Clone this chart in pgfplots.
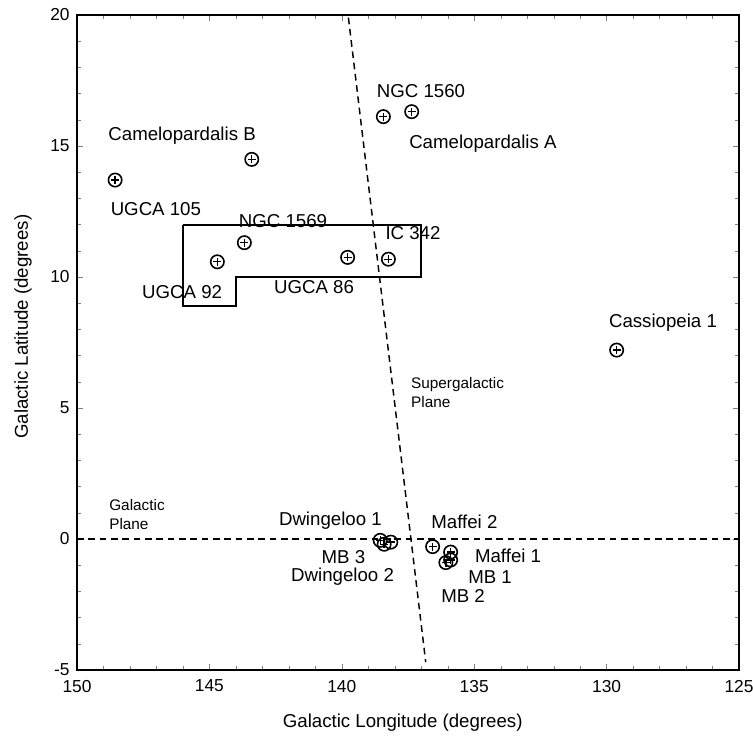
\documentclass[border=0pt]{standalone}
\usepackage{pgfplots}
\pgfplotsset{compat=1.18}
\usepackage{pgfplotstable}
\usepackage{fontspec}
\setmainfont{Liberation Sans}

\pgfplotstableread{
x y
148.56 13.70
143.40 14.49
143.68 11.31
144.70 10.58
139.78 10.75
138.43 16.12
137.36 16.31
138.24 10.68
129.62 7.21
138.55 -0.05
138.40 -0.20
138.15 -0.12
136.57 -0.29
135.89 -0.50
135.89 -0.80
136.07 -0.90
}\galaxies

\begin{document}
\begin{tikzpicture}
\begin{axis}[
  scale only axis,
  width=496.5pt, height=491.25pt,
  x dir=reverse,
  xmin=125, xmax=150, ymin=-5, ymax=20,
  xtick={125,130,135,140,145,150}, ytick={-5,0,5,10,15,20},
  xticklabels={125,130,135,140,145,150},
  yticklabels={-5,0,5,10,15,20},
  minor tick num=4,
  axis line style={line width=1.3pt},
  ticklabel style={font=\fontsize{13}{13}\selectfont},
  xticklabel style={yshift=-4pt},
  yticklabel style={xshift=-2pt},
  label style={font=\fontsize{14}{14}\selectfont},
  xlabel={Galactic Longitude (degrees)},
  ylabel={Galactic Latitude (degrees)},
  xlabel style={at={(axis description cs:0.492,-0.081)}, anchor=center},
  ylabel style={at={(axis description cs:-0.0816,0.524)}, anchor=center},
]
% galactic plane
\addplot[black, line width=1.1pt, dash pattern=on 5pt off 3.5pt] coordinates {(150,0) (125,0)};
% supergalactic plane
\addplot[black, line width=1.1pt, dash pattern=on 5pt off 3.5pt] coordinates {(139.75,19.9) (136.83,-4.7)};
% box
\addplot[black, line width=1.5pt, line join=miter] coordinates {(146,12) (137,12) (137,10) (144,10) (144,8.9) (146,8.9) (146,12)};
% markers
\addplot[only marks, mark=o, mark size=5pt, mark options={line width=1.2pt, fill=white}] table[x=x,y=y] {\galaxies};
\addplot[only marks, mark=+, mark size=3pt, mark options={line width=1pt}] table[x=x,y=y] {\galaxies};

\begin{scope}[every node/.style={font=\fontsize{14}{14}\selectfont, inner sep=0pt}]
\node at (axis cs:146.03,15.38) {Camelopardalis B};
\node at (axis cs:147.02,12.60) {UGCA 105};
\node at (axis cs:142.22,12.14) {NGC 1569};
\node at (axis cs:146.03,9.43) {UGCA 92};
\node at (axis cs:141.05,9.62) {UGCA 86};
\node at (axis cs:137.01,17.10) {NGC 1560};
\node at (axis cs:134.67,15.08) {Camelopardalis A};
\node at (axis cs:137.31,11.68) {IC 342};
\node at (axis cs:127.87,8.24) {Cassiopeia 1};
\node at (axis cs:135.37,0.65) {Maffei 2};
\node at (axis cs:133.72,-0.65) {Maffei 1};
\node at (axis cs:134.40,-1.45) {MB 1};
\node at (axis cs:135.42,-2.18) {MB 2};
\node at (axis cs:140.43,0.69) {Dwingeloo 1};
\node at (axis cs:139.94,-0.69) {MB 3};
\node at (axis cs:139.97,-1.45) {Dwingeloo 2};
\end{scope}
\begin{scope}[every node/.style={font=\fontsize{11.5}{14.25}\selectfont, inner sep=0pt, align=left, anchor=west}]
\node at (axis cs:137.39,5.59) {Supergalactic\\Plane};
\node at (axis cs:148.79,0.92) {Galactic\\Plane};
\end{scope}
\end{axis}
\pgfresetboundingbox
\path ([shift={(-57.75pt,-49.5pt)}]current axis.south west) rectangle ([shift={(10.5pt,11.25pt)}]current axis.north east);
\end{tikzpicture}
\end{document}
